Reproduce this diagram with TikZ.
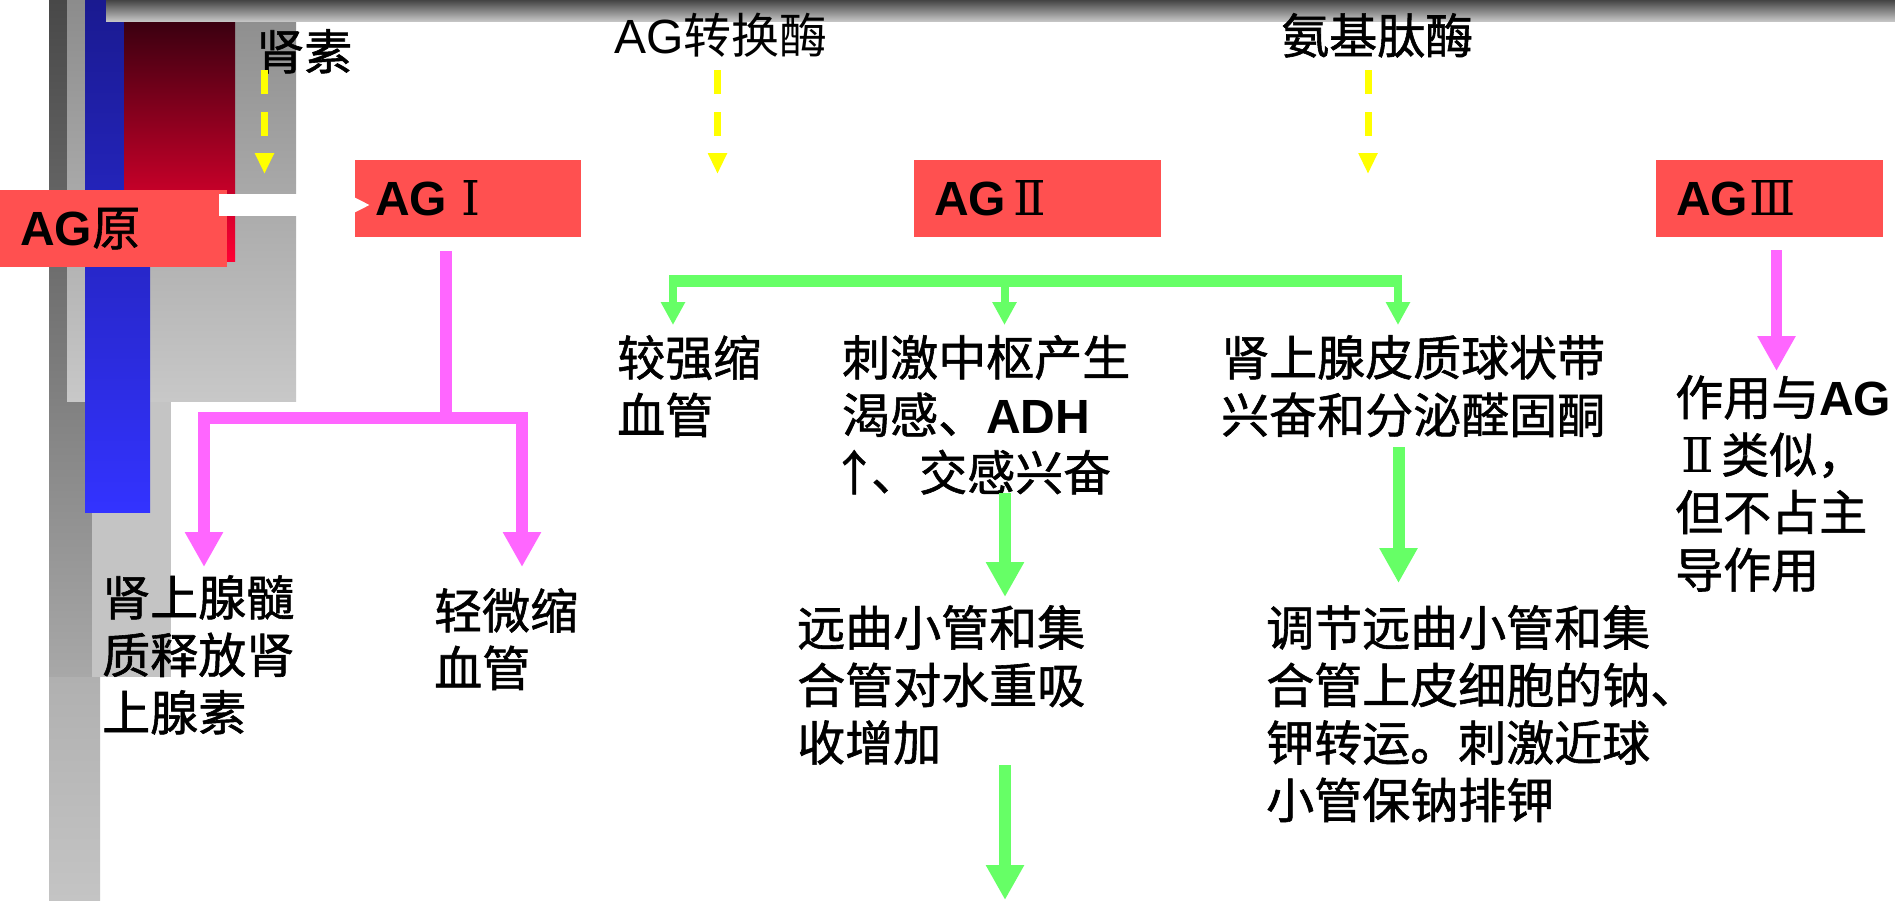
\documentclass[tikz,border=0pt]{standalone}
\usepackage{fontspec}
\setmainfont{Liberation Sans}
\newfontfamily\cjk[FakeBold=1.2]{Noto Sans CJK SC}
\newfontfamily\cjkthin{Noto Sans CJK SC}
\newfontfamily\rnum{DejaVu Serif}
\usetikzlibrary{arrows.meta}
\definecolor{boxred}{HTML}{FF5050}
\definecolor{pkc}{HTML}{FF66FF}
\definecolor{grc}{HTML}{66FF66}
\definecolor{ylc}{HTML}{FFFF00}
\definecolor{gdA}{RGB}{72,72,72}
\definecolor{gdB}{RGB}{168,168,168}
\definecolor{gmid}{RGB}{196,196,196}
\definecolor{gbot}{RGB}{176,176,176}
\definecolor{glA}{RGB}{140,140,140}
\definecolor{glB}{RGB}{200,200,200}
\definecolor{blA}{RGB}{26,26,144}
\definecolor{blM}{RGB}{50,50,248}
\definecolor{blB}{RGB}{51,51,255}
\definecolor{rdA}{RGB}{58,0,16}
\definecolor{rdB}{RGB}{255,0,51}
\definecolor{tbA}{RGB}{68,68,68}
\newcommand\latb[1]{{\normalfont\bfseries #1}}
\newcommand\latr[1]{{\normalfont #1}}
\newcommand\rn[2][48pt]{\makebox[#1][c]{\rnum #2}}
\begin{document}
\begin{tikzpicture}[x=1pt,y=-1pt,
  boxst/.style={fill=boxred, draw=none, anchor=north west, inner xsep=20pt, inner ysep=0pt,
    minimum height=77pt, align=left, font=\fontsize{48}{57.5}\selectfont},
  txt/.style={anchor=north west, inner sep=0pt, align=left, font=\fontsize{48}{57.5}\selectfont\cjk},
  yarr/.style={draw=ylc, line width=7pt, dash pattern=on 24pt off 18pt, -{Triangle[length=21pt,width=18pt]}},
  pkarr/.style={draw=pkc, line width=12pt, line join=miter},
  pkhead/.style={-{Triangle[length=35pt,width=36pt]}},
  grthin/.style={draw=grc, line width=8pt, -{Triangle[length=23pt,width=23pt]}},
  grthick/.style={draw=grc, line width=12pt, -{Triangle[length=35pt,width=36pt]}},
  whitearr/.style={draw=white, line width=22pt, -{Triangle[length=22pt,width=20pt]}}
]
\useasboundingbox (0,0) rectangle (1895,900);
\fill[white] (0,0) rectangle (1895,900);
% decorative bars
\shade[top color=gdA, bottom color=gdB] (49,0) rectangle (92,677);
\fill[gmid] (92,401) rectangle (171,677);
\shade[top color=gbot, bottom color=gmid] (49,677) rectangle (100,900);
\shade[top color=glA, bottom color=glB] (67,0) rectangle (296,401);
\shade[top color=blA, middle color=blM, bottom color=blB] (85,0) rectangle (150,512);
\shade[top color=rdA, bottom color=rdB] (124,21) rectangle (235,261);
\shade[top color=tbA, bottom color=gmid] (106,0) rectangle (1895,21);

% boxes
\node[boxst, text width=187pt] (agy) at (0,190) {\latb{AG}{\cjk 原}};
\node[boxst, text width=186pt] (ag1) at (355,160) {\latb{AG}\rn{Ⅰ}};
\node[boxst, text width=207pt] (ag2) at (914,160) {\latb{AG}\rn{Ⅱ}};
\node[boxst, text width=187pt] (ag3) at (1656,160) {\latb{AG}\rn{Ⅲ}};

% enzyme labels
\node[txt] (renin) at (256,29) {肾素};
\node[txt, font=\fontsize{48}{57.5}\selectfont\cjkthin] (ace) at (614,13) {\latr{AG}转换酶};
\node[txt] (amp) at (1281,13) {氨基肽酶};

% effect texts
\node[txt] (t1) at (617,335) {较强缩\\血管};
\node[txt] (t2) at (842,335) {刺激中枢产生\\渴感、\latb{ADH}\\\hspace{-12pt}↑\hspace{-7pt}、交感兴奋};
\node[txt] (t3) at (1221,335) {肾上腺皮质球状带\\兴奋和分泌醛固酮};
\node[txt] (t4) at (102,575) {肾上腺髓\\质释放肾\\上腺素};
\node[txt] (t5) at (434,588) {轻微缩\\血管};
\node[txt] (t6) at (797,605) {远曲小管和集\\合管对水重吸\\收增加};
\node[txt] (t7) at (1266,605) {调节远曲小管和集\\合管上皮细胞的钠、\\钾转运。刺激近球\\小管保钠排钾};
\node[txt] (t8) at (1675,375) {作用与\latb{AG}\\\rn[46pt]{Ⅱ}类似，\\但不占主\\导作用};

% coordinates
\coordinate (y1a) at (264.5,70); \coordinate (y1b) at (264.5,174);
\coordinate (y2a) at (717.5,70); \coordinate (y2b) at (717.5,174);
\coordinate (y3a) at (1368,70); \coordinate (y3b) at (1368,174);
\coordinate (wa) at (219,205); \coordinate (wb) at (370,205);
\coordinate (pa) at (446,251); \coordinate (pb) at (446,417.5);
\coordinate (pl) at (204,567); \coordinate (pr) at (522,567);
\coordinate (p3a) at (1776.5,250); \coordinate (p3b) at (1776.5,371);
\coordinate (gL) at (669,281); \coordinate (gR) at (1402,281);
\coordinate (g1a) at (673,281); \coordinate (g1b) at (673,325);
\coordinate (g2a) at (1004.5,281); \coordinate (g2b) at (1004.5,325);
\coordinate (g3a) at (1398,281); \coordinate (g3b) at (1398,325);
\coordinate (m1a) at (1005,493); \coordinate (m1b) at (1005,597);
\coordinate (m2a) at (1005,765); \coordinate (m2b) at (1005,900);
\coordinate (r1a) at (1398.5,447); \coordinate (r1b) at (1398.5,583);

% connectors
\draw[yarr] (y1a) -- (y1b);
\draw[yarr] (y2a) -- (y2b);
\draw[yarr] (y3a) -- (y3b);
\draw[whitearr] (wa) -- (wb);
\draw[pkarr] (pa) -- (pb);
\draw[pkarr, pkhead] (pb) -| (pl);
\draw[pkarr, pkhead] (pb) -| (pr);
\draw[pkarr, line width=11pt, pkhead] (p3a) -- (p3b);
\draw[draw=grc, line width=12pt] (gL) -- (gR);
\draw[grthin] (g1a) -- (g1b);
\draw[grthin] (g2a) -- (g2b);
\draw[grthin] (g3a) -- (g3b);
\draw[grthick] (m1a) -- (m1b);
\draw[grthick] (m2a) -- (m2b);
\draw[grthick] (r1a) -- (r1b);
\end{tikzpicture}
\end{document}
